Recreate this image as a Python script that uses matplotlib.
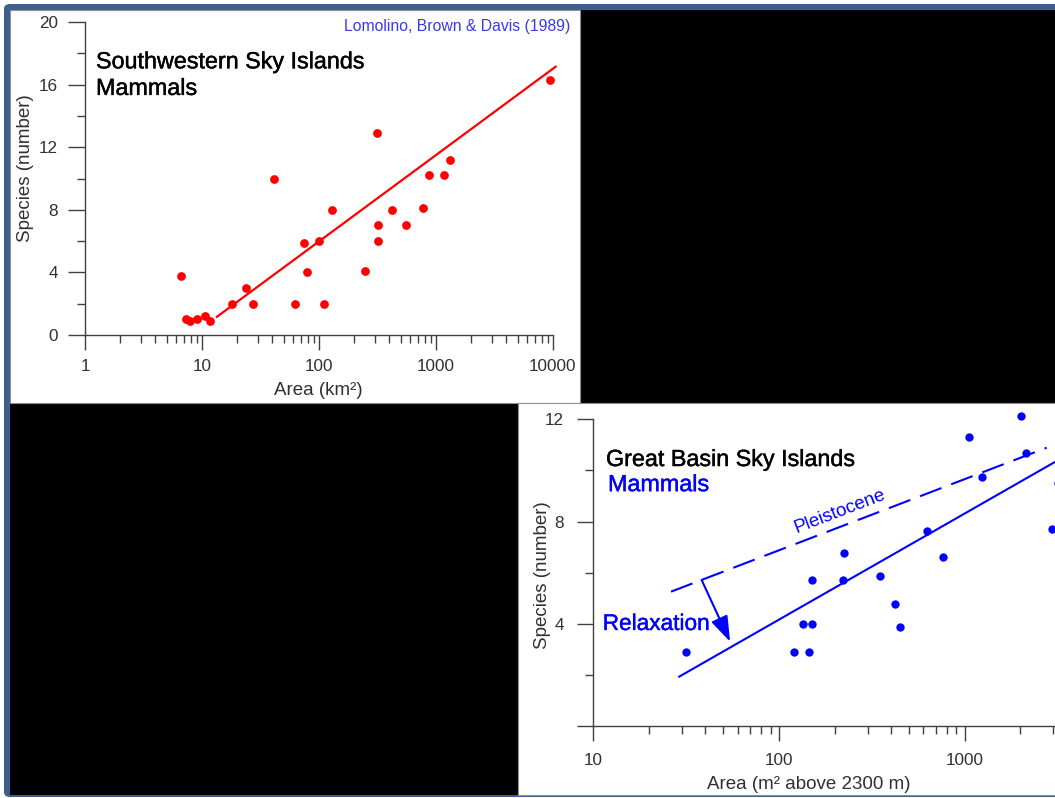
import numpy as np
import matplotlib
matplotlib.use('Agg')
import matplotlib.pyplot as plt
import matplotlib.patheffects as pe
from matplotlib.patches import Rectangle, FancyBboxPatch
from matplotlib.ticker import FixedLocator, LogLocator, FuncFormatter, NullFormatter

plt.rcParams['font.family'] = ['Liberation Sans', 'DejaVu Sans']

# Southwestern sky islands (red)
sw_area = [6.6, 7.3, 7.9, 9.1, 10.7, 11.6, 17.9, 23.6, 27.4, 40.9, 62, 74.8, 79.4,
           99.6, 110.6, 128.6, 249.6, 313, 320, 320, 423, 558, 773, 865, 1169, 1330, 9420]
sw_species = [3.8, 1.0, 0.9, 1.0, 1.2, 0.9, 2, 3, 2, 10, 2, 5.9, 4,
              6, 2, 8, 4.1, 12.9, 7, 6, 8, 7, 8.1, 10.2, 10.2, 11.2, 16.3]
sw_fit = (-5.06, 5.52)          # intercept, slope vs log10(area)
sw_fit_range = [13.4, 10540]

# Great Basin sky islands (blue)
gb_area = [31.4, 120.8, 144.8, 134.4, 150, 150, 221, 223, 351, 422.5, 449, 628, 762,
           1054, 1237, 2010, 2146, 2960, 3180]
gb_species = [2.9, 2.9, 2.9, 4, 4, 5.7, 5.7, 6.77, 5.86, 4.79, 3.88, 7.64, 6.61,
              11.32, 9.74, 12.14, 10.7, 7.7, 9.5]
gb_fit = (-4.12, 4.145)
gb_fit_range = [29, 3200]
gb_pleist = (1.32, 2.78)
gb_pleist_range = [26.2, 2768]
relax_from = (38.3, 5.72)
relax_to = (54.5, 3.31)

W, H = 1055, 798
fig = plt.figure(figsize=(W / 100, H / 100), dpi=100)
fig.patch.set_facecolor('white')


def box(x0, y0, x1, y1, **kw):
    # rectangle in figure pixels (origin top-left)
    r = Rectangle((x0 / W, 1 - y1 / H), (x1 - x0) / W, (y1 - y0) / H,
                  transform=fig.transFigure, zorder=-5, **kw)
    fig.add_artist(r)


# slide frame and background panels
fr = FancyBboxPatch((4 / W, 1 - 797 / H), 1.05 - 4 / W, (797 - 4) / H,
                    boxstyle='round,pad=0,rounding_size=0.006', transform=fig.transFigure,
                    facecolor='#3c5f8d', edgecolor='none', zorder=-6)
fig.add_artist(fr)
box(10, 10, 1060, 795, facecolor='black', edgecolor='none')
box(10, 10, 580, 403, facecolor='white', edgecolor='#909090', linewidth=0.8)
box(518, 403, 1060, 795, facecolor='white', edgecolor='#909090', linewidth=0.8)

txt = '#303030'
red = '#ff0000'
blue = '#0000ff'


def heavy(c):
    return [pe.withStroke(linewidth=0.3, foreground=c)]


def style(ax, ymax, ymaj, xmaj_len, ymaj_len, pad):
    ax.set_facecolor('none')
    ax.set_xscale('log')
    for s in ['top', 'right']:
        ax.spines[s].set_visible(False)
    for s in ['left', 'bottom']:
        ax.spines[s].set_color('#404040')
        ax.spines[s].set_linewidth(1.0)
    ax.set_ylim(0, ymax)
    ax.yaxis.set_major_locator(FixedLocator(ymaj))
    ax.yaxis.set_minor_locator(FixedLocator([v + ymaj[1] / 2 - ymaj[0] / 2 for v in ymaj[:-1]]))
    ax.xaxis.set_major_locator(LogLocator(base=10))
    ax.xaxis.set_minor_locator(LogLocator(base=10, subs=np.arange(2, 10)))
    ax.xaxis.set_major_formatter(FuncFormatter(lambda v, _: f'{v:g}'))
    ax.xaxis.set_minor_formatter(NullFormatter())
    ax.tick_params(axis='x', which='major', length=xmaj_len, width=1.0, color='#404040',
                   labelsize=12.3, labelcolor=txt, pad=pad)
    ax.tick_params(axis='y', which='major', length=ymaj_len, width=1.0, color='#404040',
                   labelsize=12.3, labelcolor=txt, pad=pad + 1.5)
    ax.tick_params(which='minor', length=6, width=1.0, color='#404040')


# ---- top-left: Southwestern ----
ax1 = fig.add_axes([85 / W, 1 - 335 / H, 468 / W, 313 / H])
style(ax1, 20, [0, 4, 8, 12, 16, 20], 11, 12, 6)
ax1.set_xlim(1, 10000)
ax1.plot(sw_area, sw_species, 'o', color=red, markersize=6.3, markeredgewidth=0, clip_on=False)
xf = np.array(sw_fit_range)
ax1.plot(xf, sw_fit[0] + sw_fit[1] * np.log10(xf), '-', color=red, lw=1.6, clip_on=False)
ax1.set_ylabel('Species (number)', fontsize=13.5, color=txt)
ax1.yaxis.set_label_coords(-0.109, 0.533)
ax1.set_xlabel('Area (km²)', fontsize=13.5, color=txt)
ax1.xaxis.set_label_coords(0.498, -0.150)
ax1.text(1.036, 0.972, 'Lomolino, Brown & Davis (1989)', transform=ax1.transAxes,
         ha='right', va='baseline', fontsize=11.3, color='#3838f0')
ax1.text(0.0235, 0.852, 'Southwestern Sky Islands', transform=ax1.transAxes,
         ha='left', va='baseline', fontsize=16.8, color='black', path_effects=heavy('black'))
ax1.text(0.0235, 0.767, 'Mammals', transform=ax1.transAxes,
         ha='left', va='baseline', fontsize=16.8, color='black', path_effects=heavy('black'))

# ---- bottom-right: Great Basin ----
bw = 2.5 * 185.6   # axes width in px (2.5 decades)
ax2 = fig.add_axes([593.4 / W, 1 - 726.3 / H, bw / W, 307 / H])
style(ax2, 12, [0, 4, 8, 12], 11, 11.5, 8)
ax2.set_yticklabels(['', '4', '8', '12'])
ax2.set_xlim(10, 10 ** 3.5)
ax2.plot(gb_area, gb_species, 'o', color=blue, markersize=6, markeredgewidth=0, clip_on=False)
xg = np.array(gb_fit_range)
ax2.plot(xg, gb_fit[0] + gb_fit[1] * np.log10(xg), '-', color=blue, lw=1.5, clip_on=False)
xp = np.array(gb_pleist_range)
ax2.plot(xp, gb_pleist[0] + gb_pleist[1] * np.log10(xp), color=blue, lw=1.5,
         dashes=(11, 5))
ax2.annotate('', xy=relax_to, xytext=relax_from,
             arrowprops=dict(arrowstyle='-|>,head_length=1.3,head_width=0.45',
                             mutation_scale=12, color=blue, lw=1.5, shrinkA=0, shrinkB=0))
ax2.set_ylabel('Species (number)', fontsize=13.5, color=txt)
ax2.yaxis.set_label_coords((551 - 593.4) / bw, 0.493)
ax2.set_xlabel('Area (m² above 2300 m)', fontsize=13.5, color=txt)
ax2.xaxis.set_label_coords((809 - 593.4) / bw, -0.161)
ax2.text((606 - 593.4) / bw, 0.8478, 'Great Basin Sky Islands', transform=ax2.transAxes,
         ha='left', va='baseline', fontsize=16.8, color='black', path_effects=heavy('black'))
ax2.text((608 - 593.4) / bw, 0.766, 'Mammals', transform=ax2.transAxes,
         ha='left', va='baseline', fontsize=16.8, color=blue, path_effects=heavy(blue))
ax2.text((602.7 - 593.4) / bw, 0.3137, 'Relaxation', transform=ax2.transAxes,
         ha='left', va='baseline', fontsize=16.3, color=blue, path_effects=heavy(blue))
ax2.text(123.5, 7.57, 'Pleistocene', rotation=21, rotation_mode='anchor',
         ha='left', va='baseline', fontsize=13.5, color=blue)

fig.savefig('out.png', dpi=100, facecolor=fig.get_facecolor())
